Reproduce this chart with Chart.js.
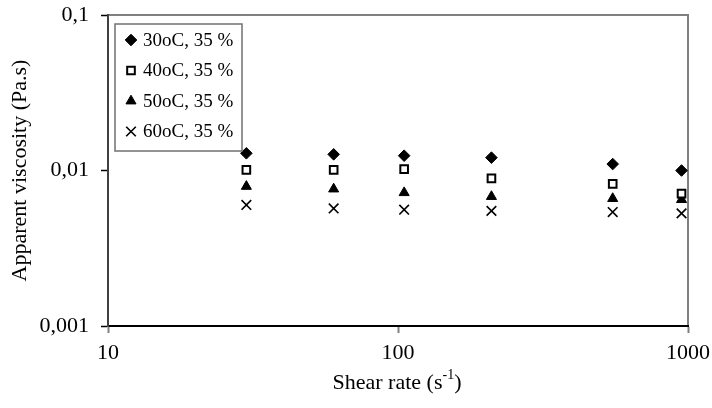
<!DOCTYPE html>
<html>
<head>
<meta charset="utf-8">
<script src="https://cdn.jsdelivr.net/npm/chart.js@4.4.1/dist/chart.umd.min.js"></script>
<style>
  html, body { margin: 0; padding: 0; background: #fff; }
  #wrap { width: 712px; height: 408px; }
</style>
</head>
<body>
<div id="wrap"><canvas id="chart" width="712" height="408"></canvas></div>
<script>
// Data
const shearRates = [30, 60, 105, 210, 550, 950];
const visc30 = [0.0129, 0.0127, 0.01245, 0.0121, 0.0110, 0.0100];
const visc40 = [0.0101, 0.0101, 0.0102, 0.0089, 0.0082, 0.0071];
const visc50 = [0.0079, 0.0076, 0.0072, 0.0068, 0.0066, 0.0065];
const visc60 = [0.0060, 0.0057, 0.0056, 0.0055, 0.0054, 0.0053];
const seriesLabels = ['30oC, 35 %', '40oC, 35 %', '50oC, 35 %', '60oC, 35 %'];
const xTicks = [10, 100, 1000];
const yTicks = [0.001, 0.01, 0.1];

const FONT = "'Liberation Serif', 'Times New Roman', serif";

const toPoints = (values) => values.map((v, i) => ({ x: shearRates[i], y: v }));

const datasets = [
    { label: seriesLabels[0], data: toPoints(visc30), pointStyle: 'rectRot', pointRadius: 5.8,
      backgroundColor: '#000', borderColor: '#000', borderWidth: 1 },
    { label: seriesLabels[1], data: toPoints(visc40), pointStyle: 'rect', pointRadius: 5.4,
      backgroundColor: '#fff', borderColor: '#000', borderWidth: 2 },
    { label: seriesLabels[2], data: toPoints(visc50), pointStyle: 'triangle', pointRadius: 5.8,
      backgroundColor: '#000', borderColor: '#000', borderWidth: 1 },
    { label: seriesLabels[3], data: toPoints(visc60), pointStyle: 'crossRot', pointRadius: 6.8,
      backgroundColor: '#000', borderColor: '#000', borderWidth: 1.6 },
];
datasets.forEach((d) => { d.showLine = false; d.clip = false; d.pointHoverRadius = d.pointRadius; });

// grey frame around the plot area (top and right show through)
const framePlugin = {
    id: 'frame',
    beforeDraw(chart) {
        const { ctx, chartArea: a } = chart;
        ctx.save();
        ctx.strokeStyle = '#808080';
        ctx.lineWidth = 2;
        ctx.strokeRect(a.left, a.top, a.right - a.left, a.bottom - a.top);
        ctx.restore();
    }
};

// boxed legend inside the plot, one entry per row
const boxLegend = {
    id: 'boxLegend',
    afterDatasetsDraw(chart) {
        const { ctx } = chart;
        ctx.save();
        ctx.fillStyle = '#fff';
        ctx.fillRect(115, 24, 127, 127);
        ctx.strokeStyle = '#707070';
        ctx.lineWidth = 1.5;
        ctx.strokeRect(115, 24, 127, 127);
        chart.data.datasets.forEach((ds, i) => {
            const y = 40 + i * 30.5;
            ctx.fillStyle = ds.backgroundColor;
            ctx.strokeStyle = ds.borderColor;
            ctx.lineWidth = ds.borderWidth;
            Chart.helpers.drawPoint(ctx, { pointStyle: ds.pointStyle, radius: ds.pointRadius, rotation: 0, borderWidth: ds.borderWidth }, 131, y);
            ctx.fillStyle = '#000';
            ctx.font = '19px ' + FONT;
            ctx.textBaseline = 'middle';
            ctx.textAlign = 'left';
            ctx.fillText(ds.label, 143, y + 1);
        });
        ctx.restore();
    }
};

// x title with superscript
const xTitle = {
    id: 'xTitle',
    afterDraw(chart) {
        const { ctx } = chart;
        ctx.save();
        ctx.fillStyle = '#000';
        ctx.textBaseline = 'alphabetic';
        const main = 'Shear rate (s';
        const sup = '-1';
        const end = ')';
        ctx.font = '22px ' + FONT;
        const w1 = ctx.measureText(main).width;
        const w3 = ctx.measureText(end).width;
        ctx.font = '14px ' + FONT;
        const w2 = ctx.measureText(sup).width;
        let x = 397 - (w1 + w2 + w3) / 2;
        const y = 389;
        ctx.font = '22px ' + FONT;
        ctx.fillText(main, x, y);
        x += w1;
        ctx.font = '14px ' + FONT;
        ctx.fillText(sup, x, y - 10);
        x += w2;
        ctx.font = '22px ' + FONT;
        ctx.fillText(end, x, y);
        ctx.restore();
    }
};

const ctx = document.getElementById('chart').getContext('2d');

new Chart(ctx, {
    type: 'scatter',
    data: { datasets: datasets },
    options: {
        responsive: false,
        animation: false,
        layout: { padding: { top: 15, right: 24, left: 0, bottom: 0 } },
        plugins: {
            legend: { display: false },
            tooltip: { enabled: false },
        },
        scales: {
            x: {
                type: 'logarithmic',
                min: 10,
                max: 1000,
                afterBuildTicks: (scale) => { scale.ticks = xTicks.map((v) => ({ value: v, major: true })); },
                afterFit: (scale) => {
                    scale.height = 82;
                    scale.paddingLeft = 0;
                    scale.paddingRight = 0;
                },
                ticks: {
                    color: '#000',
                    font: { family: FONT, size: 22 },
                    padding: 7,
                    maxRotation: 0,
                    autoSkip: false,
                    callback: (v) => String(v),
                },
                grid: { drawOnChartArea: false, tickLength: 7, tickColor: '#808080', tickWidth: 2 },
                border: { color: '#000', width: 2 },
            },
            y: {
                type: 'logarithmic',
                min: 0.001,
                max: 0.1,
                afterBuildTicks: (scale) => { scale.ticks = yTicks.map((v) => ({ value: v, major: true })); },
                afterFit: (scale) => {
                    scale.width = 108;
                    scale.paddingTop = 0;
                    scale.paddingBottom = 0;
                },
                ticks: {
                    color: '#000',
                    font: { family: FONT, size: 22 },
                    padding: 12,
                    autoSkip: false,
                    callback: (v) => String(v).replace('.', ','),
                },
                grid: { drawOnChartArea: false, tickLength: 7, tickColor: '#000', tickWidth: 1.5 },
                border: { color: '#404040', width: 2 },
                title: {
                    display: true,
                    text: 'Apparent viscosity (Pa.s)',
                    color: '#000',
                    font: { family: FONT, size: 22 },
                    padding: { top: 7, bottom: 0 },
                },
            },
        },
    },
    plugins: [framePlugin, boxLegend, xTitle],
});
</script>
</body>
</html>
